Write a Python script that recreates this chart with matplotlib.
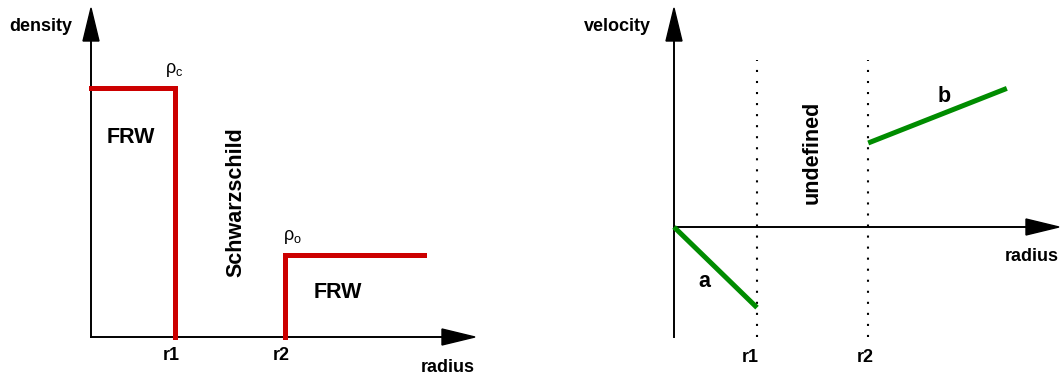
import numpy as np
import matplotlib.pyplot as plt
from matplotlib.patches import Polygon

# ==============================
# 1. Data (schematic units)
# ==============================
# density panel: step profile
dens_r = [0.0, 1.0, 1.0]
dens_rho = [1.0, 1.0, 0.0]
outer_r = [2.31, 2.31, 3.96]
outer_rho = [0.0, 0.33, 0.33]

# velocity panel: two linear pieces
vel_a_r = [0.0, 1.0]
vel_a_v = [0.0, -0.96]
vel_b_r = [2.34, 4.01]
vel_b_v = [1.0, 1.65]
shells = [1.0, 2.34]
shell_labels = ["r1", "r2"]

RED = "#cc0000"
GREEN = "#008c00"

plt.rcParams['font.family'] = ['Liberation Sans', 'DejaVu Sans']

W, H = 1060, 374
fig = plt.figure(figsize=(W / 100, H / 100), dpi=100)


def make_axes(x0, y_top, x1, y_bot, xlim, ylim):
    ax = fig.add_axes([x0 / W, 1 - y_bot / H, (x1 - x0) / W, (y_bot - y_top) / H])
    ax.set_xlim(*xlim)
    ax.set_ylim(*ylim)
    ax.axis('off')
    return ax


def arrow_head(ax, tip, direction, sx, sy, length=33, half=8):
    # sx, sy: pixels per data unit
    tx, ty = tip
    if direction == 'up':
        pts = [(tx, ty), (tx - half / sx, ty - length / sy), (tx + half / sx, ty - length / sy)]
    else:
        pts = [(tx, ty), (tx - length / sx, ty - half / sy), (tx - length / sx, ty + half / sy)]
    ax.add_patch(Polygon(pts, closed=True, color='black', clip_on=False, zorder=5))


bold = dict(fontweight='bold', fontsize=13)
big = dict(fontweight='bold', fontsize=15.5)

# ==============================
# 2. Density panel
# ==============================
sx, sy = 84.0, 249.0
xmax, ymax = (475 - 91) / sx, (337 - 8) / sy
ax1 = make_axes(91, 8, 475, 337, (0, xmax), (0, ymax))

ax1.plot([0, 0], [0, ymax - 30 / sy], color='black', lw=1.4, clip_on=False)
ax1.plot([0, xmax - 30 / sx], [0, 0], color='black', lw=1.4, clip_on=False)
arrow_head(ax1, (0, ymax), 'up', sx, sy)
arrow_head(ax1, (xmax, 0), 'right', sx, sy)

ax1.plot(dens_r, dens_rho, color=RED, lw=3.6, solid_joinstyle='miter', clip_on=False)
ax1.plot(outer_r, outer_rho, color=RED, lw=3.6, solid_joinstyle='miter', clip_on=False)

ax1.text(-0.22, ymax - 18 / sy, "density", ha='right', va='center', **bold)
ax1.text(xmax, -30 / sy, "radius", ha='right', va='center', **bold)
ax1.text(dens_r[1] - 0.05, -19 / sy, "r1", ha='center', va='center', **bold)
ax1.text(outer_r[0] - 0.04, -19 / sy, "r2", ha='center', va='center', **bold)
ax1.text(0.47, 0.80, "FRW", ha='center', va='center', **big)
ax1.text(2.94, 0.18, "FRW", ha='center', va='center', **big)
ax1.text(1.73, 0.54, "Schwarzschild", rotation=90, ha='center', va='center', **big)
ax1.text(dens_r[1] - 0.12, dens_rho[0] + 0.035, r"$\mathregular{\rho_c}$", ha='left',
         va='bottom', fontsize=13)
ax1.text(outer_r[0] - 0.03, outer_rho[1] + 0.035, r"$\mathregular{\rho_o}$", ha='left',
         va='bottom', fontsize=13)

# ==============================
# 3. Velocity panel
# ==============================
sx2, sy2 = 83.0, 84.0
x2max = (1059 - 674) / sx2
y2max = (227 - 8) / sy2
y2min = -(337 - 227) / sy2
ax2 = make_axes(674, 8, 1059, 337, (0, x2max), (y2min, y2max))

ax2.plot([0, 0], [y2min, y2max - 30 / sy2], color='black', lw=1.4, clip_on=False)
ax2.plot([0, x2max - 30 / sx2], [0, 0], color='black', lw=1.4, clip_on=False)
arrow_head(ax2, (0, y2max), 'up', sx2, sy2)
arrow_head(ax2, (x2max, 0), 'right', sx2, sy2)

for r in shells:
    ax2.plot([r, r], [y2min, (227 - 60) / sy2], color='black', lw=1.5,
             linestyle=(0, (1, 4.3)), dash_capstyle='butt', clip_on=False)

ax2.plot(vel_a_r, vel_a_v, color=GREEN, lw=3.6, solid_capstyle='butt', clip_on=False)
ax2.plot(vel_b_r, vel_b_v, color=GREEN, lw=3.6, solid_capstyle='butt', clip_on=False)

ax2.text(-0.28, y2max - 18 / sy2, "velocity", ha='right', va='center', **bold)
ax2.text(x2max, -29 / sy2, "radius", ha='right', va='center', **bold)
for r, lab, dx in zip(shells, shell_labels, [-0.08, -0.03]):
    ax2.text(r + dx, y2min - 20 / sy2, lab, ha='center', va='center', **bold)
ax2.text(0.37, -0.65, "a", ha='center', va='center', **big)
ax2.text(3.25, 1.55, "b", ha='center', va='center', **big)
ax2.text(1.66, 0.89, "undefined", rotation=90, ha='center', va='center', **big)

fig.savefig("out.png", dpi=100)
